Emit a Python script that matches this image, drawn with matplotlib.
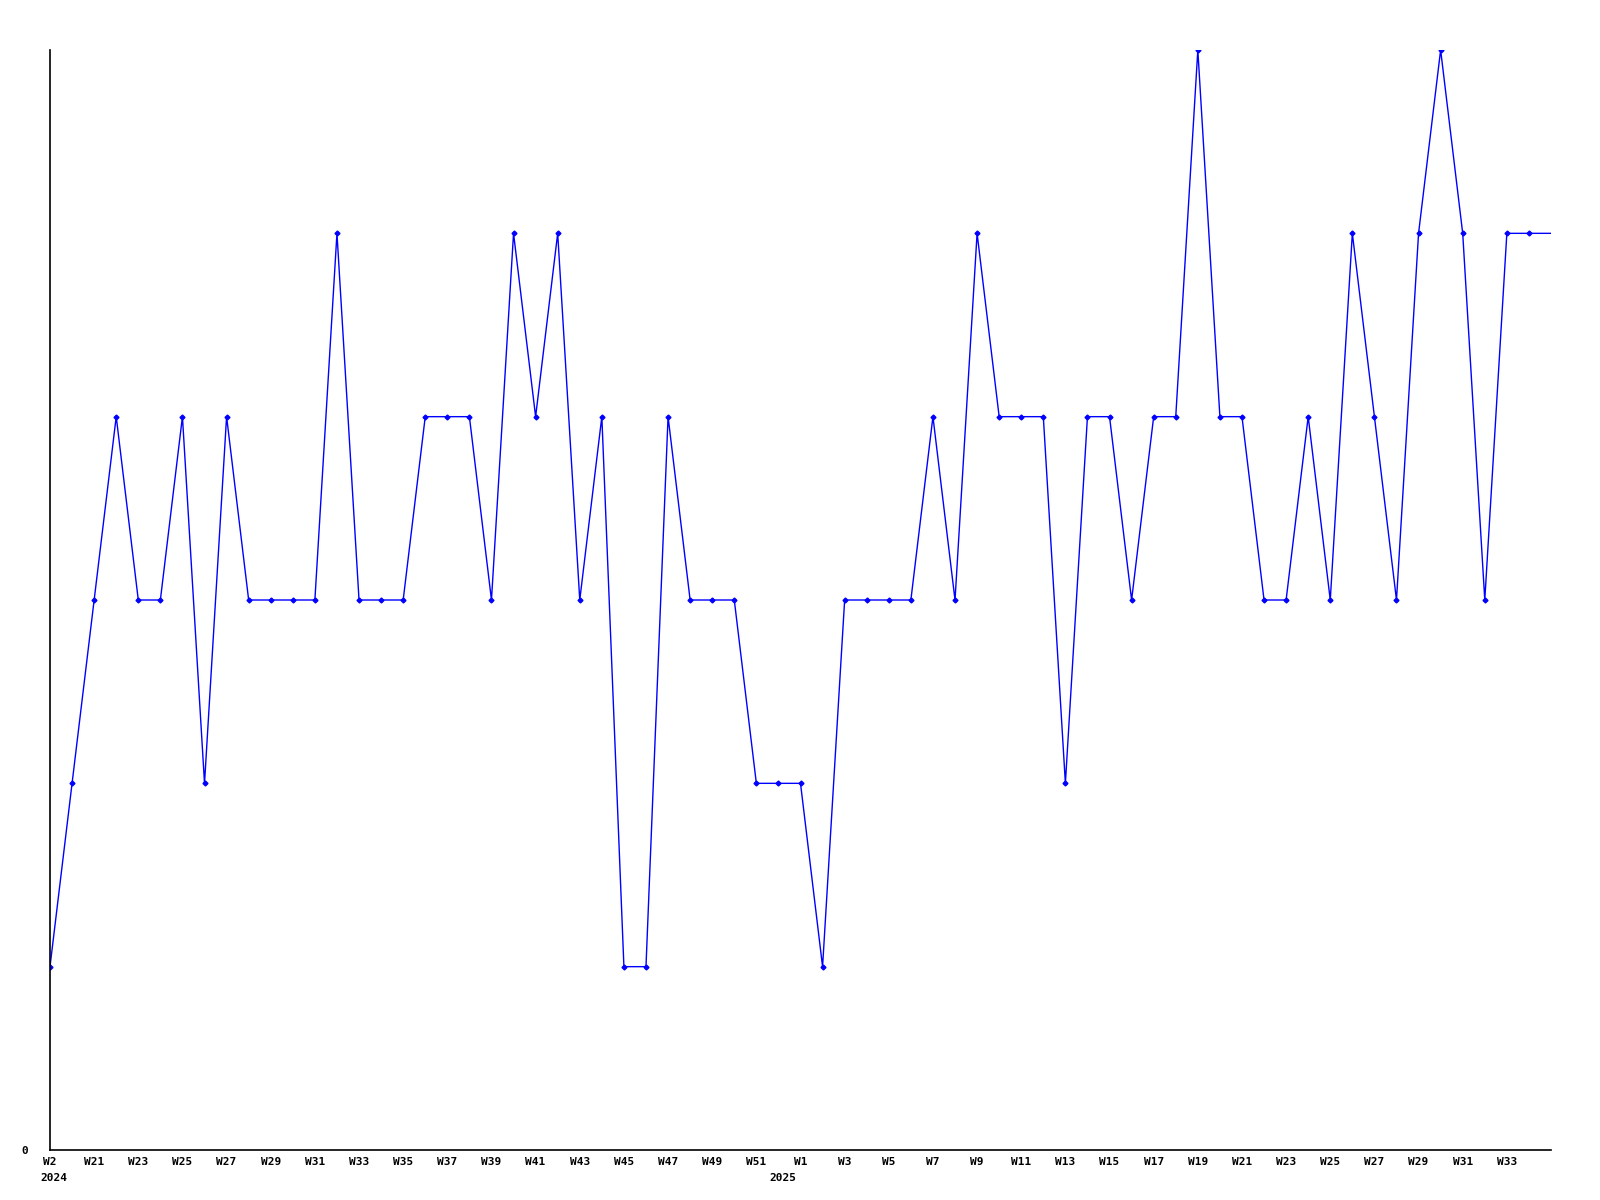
import matplotlib
matplotlib.use("Agg")
import matplotlib.pyplot as plt


# weekly counts, 2024 W19 .. 2025 W34 (last entry continues to the right edge)
weeks = (
    [f"W{w}" for w in range(19, 53)]
    + [f"W{w}" for w in range(1, 35)]
    + ["W35"]
)
values = [
    1, 2, 3, 4, 3, 3, 4, 2, 4, 3, 3, 3, 3, 5, 3, 3, 3, 4, 4, 4,
    3, 5, 4, 5, 3, 4, 1, 1, 4, 3, 3, 3, 2, 2, 2, 1, 3, 3, 3, 3,
    4, 3, 5, 4, 4, 4, 2, 4, 4, 3, 4, 4, 6, 4, 4, 3, 3, 4, 3, 5,
    4, 3, 5, 6, 5, 3, 5, 5, 5,
]
tick_labels = ["W2"] + [weeks[i] for i in range(2, 68, 2)]
year_labels = [("2024", -0.45, "left"), ("2025", 33.2, "center")]

font = ["DejaVu Sans Mono"]

fig = plt.figure(figsize=(16, 12), dpi=100)
ax = fig.add_axes([50 / 1600, 50 / 1200, 1501 / 1600, 1100 / 1200])

x = list(range(len(values)))
ax.plot(x, values, color="#0000ff", linewidth=1.0, marker="D",
        markersize=2.5, markevery=list(range(len(values) - 1)))

ax.set_xlim(0, 68)
ax.set_ylim(0, 6)

for side in ["top", "right"]:
    ax.spines[side].set_visible(False)
for side in ["left", "bottom"]:
    ax.spines[side].set_linewidth(1.2)
    ax.spines[side].set_color("black")

ax.set_xticks(range(0, 68, 2))
ax.set_xticklabels(tick_labels, fontfamily=font, fontweight="bold", fontsize=8)
ax.set_yticks([0])
ax.set_yticklabels(["0"], fontfamily=font, fontweight="bold", fontsize=8)
ax.tick_params(axis="both", length=0)
ax.tick_params(axis="x", pad=5)
ax.tick_params(axis="y", pad=16)

for label, pos, ha in year_labels:
    ax.text(pos, -0.021, label, ha=ha, va="top",
            fontfamily=font, fontweight="bold", fontsize=8,
            transform=ax.get_xaxis_transform())

fig.savefig("out.png", dpi=100)
